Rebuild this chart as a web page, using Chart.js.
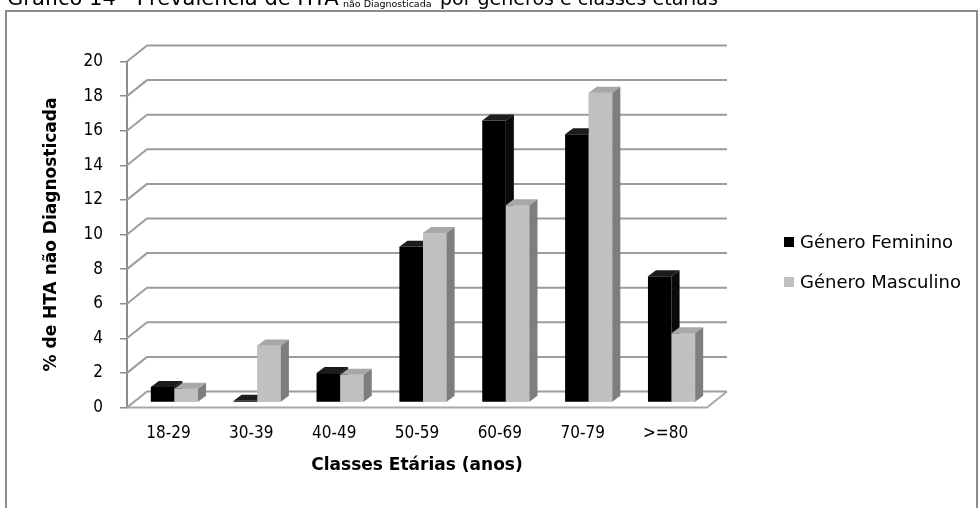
<!DOCTYPE html>
<html lang="pt">
<head>
<meta charset="utf-8">
<title>Prevalência de HTA não Diagnosticada</title>
<script src="https://cdn.jsdelivr.net/npm/chart.js@4/dist/chart.umd.min.js"></script>
<style>
  html, body { margin: 0; padding: 0; background: #ffffff; }
  #wrap { width: 980px; height: 508px; overflow: hidden; }
  canvas { display: block; }
</style>
</head>
<body>
<div id="wrap"><canvas id="chart" width="980" height="508"></canvas></div>
<script>
// Age classes and percentages of undiagnosed hypertension per gender
const CATEGORIES = ['18-29', '30-39', '40-49', '50-59', '60-69', '70-79', '>=80'];
const FEMININO  = [0.9, 0.1, 1.7, 9.0, 16.3, 15.5, 7.3];
const MASCULINO = [0.8, 3.3, 1.6, 9.8, 11.4, 17.9, 4.0];
const SERIES_NAMES = ['Género Feminino', 'Género Masculino'];
const Y_MIN = 0, Y_MAX = 20, Y_STEP = 2;
const X_TITLE = 'Classes Etárias (anos)';
const Y_TITLE = '% de HTA não Diagnosticada';
const CAPTION = ['Gráfico 14 - Prevalência de HTA', 'não Diagnosticada', 'por géneros e classes etárias'];

// Colours: front, top and side faces of each series
const FACES = [
  { front: '#000000', top: '#1c1c1c', side: '#0a0a0a' },
  { front: '#c0c0c0', top: '#a8a8a8', side: '#7e7e7e' }
];

// Perspective offsets
const WALL_DX = 20, WALL_DY = 16;   // depth of floor / side wall
const BAR_DX = 6, BAR_DY = -5;      // position of the bar row inside the depth
const BOX_DX = 8, BOX_DY = 6;       // depth of each bar

const GRID_COLOR = '#9c9c9c';
const FONT_TICK = "'DejaVu Sans Condensed', 'DejaVu Sans', sans-serif";
const FONT_TEXT = "'DejaVu Sans', sans-serif";

const depthPlugin = {
  id: 'depth3d',
  beforeDraw(chart) {
    const ctx = chart.ctx;
    ctx.save();
    // outer frame
    ctx.strokeStyle = '#8c8c8c';
    ctx.lineWidth = 2;
    ctx.strokeRect(6, 11, 971, 520);
    // caption line above the frame, with a subscript in the middle
    ctx.fillStyle = '#000';
    ctx.textBaseline = 'alphabetic';
    ctx.font = "21px " + FONT_TEXT;
    ctx.fillText(CAPTION[0], 7, 5);
    ctx.font = "9.5px " + FONT_TEXT;
    ctx.fillText(CAPTION[1], 343, 6.5);
    ctx.font = "19px " + FONT_TEXT;
    ctx.fillText(CAPTION[2], 440, 5);
    ctx.restore();
  },
  beforeDatasetsDraw(chart) {
    const ctx = chart.ctx;
    const { left, right } = chart.chartArea;
    const ys = chart.scales.y;
    ctx.save();
    ctx.strokeStyle = GRID_COLOR;
    ctx.lineWidth = 2;
    ctx.lineJoin = 'round';
    // side wall diagonals and back wall gridlines
    for (let v = Y_MIN; v <= Y_MAX; v += Y_STEP) {
      const y = ys.getPixelForValue(v);
      ctx.beginPath();
      ctx.moveTo(left, y);
      ctx.lineTo(left + WALL_DX, y - WALL_DY);
      ctx.lineTo(right + WALL_DX, y - WALL_DY);
      ctx.stroke();
    }
    // floor front edge and right edge
    const yb = ys.getPixelForValue(Y_MIN);
    ctx.strokeStyle = '#a8a8a8';
    ctx.beginPath();
    ctx.moveTo(left, yb);
    ctx.lineTo(right, yb);
    ctx.lineTo(right + WALL_DX, yb - WALL_DY);
    ctx.stroke();
    ctx.restore();
    // bar row sits a little behind the front plane
    ctx.save();
    ctx.translate(BAR_DX, BAR_DY);
  },
  afterDatasetsDraw(chart) {
    const ctx = chart.ctx;
    const metas = [chart.getDatasetMeta(0), chart.getDatasetMeta(1)];
    for (let i = 0; i < CATEGORIES.length; i++) {
      metas.forEach((meta, s) => {
        const el = meta.data[i];
        if (!el) return;
        if (s > 0) el.draw(ctx);  // keep the later column in front of the earlier one's side
        const p = el.getProps(['x', 'y', 'base', 'width'], true);
        const x0 = p.x - p.width / 2, x1 = p.x + p.width / 2;
        const yt = Math.min(p.y, p.base), yb = p.base;
        // top face
        ctx.fillStyle = FACES[s].top;
        ctx.beginPath();
        ctx.moveTo(x0, yt);
        ctx.lineTo(x0 + BOX_DX, yt - BOX_DY);
        ctx.lineTo(x1 + BOX_DX, yt - BOX_DY);
        ctx.lineTo(x1, yt);
        ctx.closePath();
        ctx.fill();
        // side face
        ctx.fillStyle = FACES[s].side;
        ctx.beginPath();
        ctx.moveTo(x1, yt);
        ctx.lineTo(x1 + BOX_DX, yt - BOX_DY);
        ctx.lineTo(x1 + BOX_DX, yb - BOX_DY);
        ctx.lineTo(x1, yb);
        ctx.closePath();
        ctx.fill();
      });
    }
    ctx.restore();
  },
  afterDraw(chart) {
    // legend at the right
    const ctx = chart.ctx;
    ctx.save();
    ctx.font = "18px " + FONT_TEXT;
    ctx.textBaseline = 'middle';
    const rows = [242, 282];
    SERIES_NAMES.forEach((name, s) => {
      ctx.fillStyle = FACES[s].front;
      ctx.fillRect(784, rows[s] - 5, 10, 10);
      ctx.fillStyle = '#000';
      ctx.fillText(name, 800, rows[s] + 1);
    });
    ctx.restore();
  }
};

new Chart(document.getElementById('chart'), {
  type: 'bar',
  data: {
    labels: CATEGORIES,
    datasets: [
      { label: SERIES_NAMES[0], data: FEMININO, backgroundColor: FACES[0].front, borderWidth: 0, clip: false },
      { label: SERIES_NAMES[1], data: MASCULINO, backgroundColor: FACES[1].front, borderWidth: 0, clip: false }
    ]
  },
  options: {
    responsive: false,
    animation: false,
    devicePixelRatio: 1,
    layout: { padding: { left: 36, right: 273, top: 61.5, bottom: 32 } },
    datasets: { bar: { categoryPercentage: 0.57, barPercentage: 1.0 } },
    plugins: {
      legend: { display: false },
      tooltip: { enabled: false },
      title: { display: false }
    },
    scales: {
      x: {
        afterFit(scale) { scale.height = 68.5; },
        grid: { display: false, drawTicks: false },
        border: { display: false },
        ticks: { color: '#000', padding: 16, maxRotation: 0, font: { family: FONT_TICK, size: 17 } },
        title: {
          display: true, text: X_TITLE, color: '#000',
          font: { family: FONT_TEXT, size: 17, weight: 'bold' },
          padding: { top: 0, bottom: 0 }
        }
      },
      y: {
        min: Y_MIN, max: Y_MAX,
        afterFit(scale) { scale.width = 91; },
        grid: { drawOnChartArea: false, drawTicks: true, tickLength: 7, color: '#8c8c8c', lineWidth: 1.5 },
        border: { display: true, color: '#8c8c8c', width: 2 },
        ticks: { stepSize: Y_STEP, color: '#000', padding: 17, font: { family: FONT_TICK, size: 17 } },
        title: {
          display: true, text: Y_TITLE, color: '#000',
          font: { family: FONT_TEXT, size: 17, weight: 'bold' },
          padding: { top: 5, bottom: 0 }
        }
      }
    }
  },
  plugins: [depthPlugin]
});
</script>
</body>
</html>
